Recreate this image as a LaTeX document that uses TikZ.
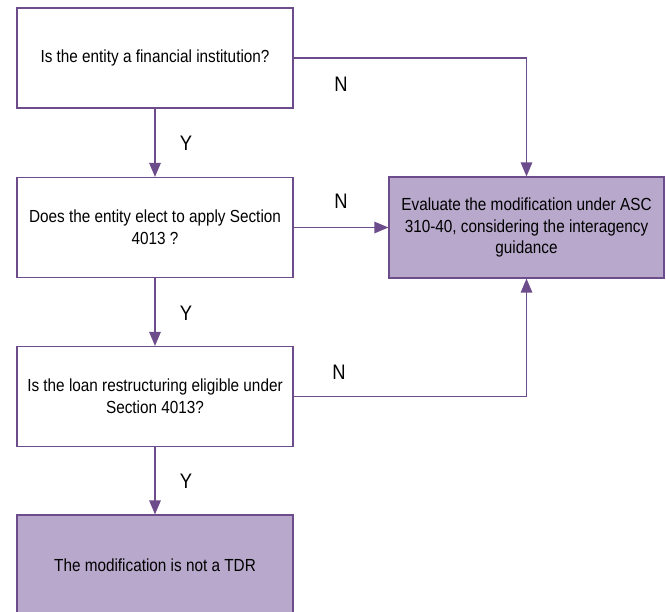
\documentclass[tikz,border=0pt]{standalone}
\usepackage{fontspec}
\setmainfont{Liberation Sans}[FakeStretch=0.875]
\usetikzlibrary{arrows.meta}
\definecolor{pline}{RGB}{108,76,138}
\definecolor{pfill}{RGB}{184,169,204}
\begin{document}
\begin{tikzpicture}[x=1pt,y=-1pt,
  box/.style={draw=pline, line width=1.2pt, fill=white, inner sep=0pt, align=center,
    minimum width=276pt, minimum height=100pt,
    font=\fontsize{17.5}{21.7}\selectfont},
  endbox/.style={box, fill=pfill},
  arr/.style={draw=pline, line width=1.3pt, -{Triangle[length=14pt,width=11.5pt]}},
  lbl/.style={font=\fontsize{21}{25}\selectfont, inner sep=0pt}]
\useasboundingbox (0,0) rectangle (666,611);
\clip (0,0) rectangle (666,611);
\node[box] (b1) at (155,58) {Is the entity a financial institution?};
\node[box] (b2) at (155,227.5) {Does the entity elect to apply Section\\4013 ?};
\node[box] (b3) at (155,396.5) {Is the loan restructuring eligible under\\Section 4013?};
\node[endbox, minimum height=100pt] (b4) at (155,565) {The modification is not a TDR};
\node[endbox, minimum width=275pt, minimum height=101pt] (r) at (526.5,227.5) {Evaluate the modification under ASC\\310-40, considering the interagency\\guidance};
\draw[arr] (b1.south) -- (b2.north);
\draw[arr] (b2.south) -- (b3.north);
\draw[arr] (b3.south) -- (b4.north);
\draw[arr] (b1.east) -| (r.north);
\draw[arr] (b2.east) -- (r.west);
\draw[arr] (b3.east) -| (r.south);
\node[lbl] (n1) at (341,84) {N};
\node[lbl] (n2) at (341,201) {N};
\node[lbl] (n3) at (339,372) {N};
\node[lbl] (y1) at (186,143) {Y};
\node[lbl] (y2) at (186,313) {Y};
\node[lbl] (y3) at (186,481) {Y};
\end{tikzpicture}
\end{document}
